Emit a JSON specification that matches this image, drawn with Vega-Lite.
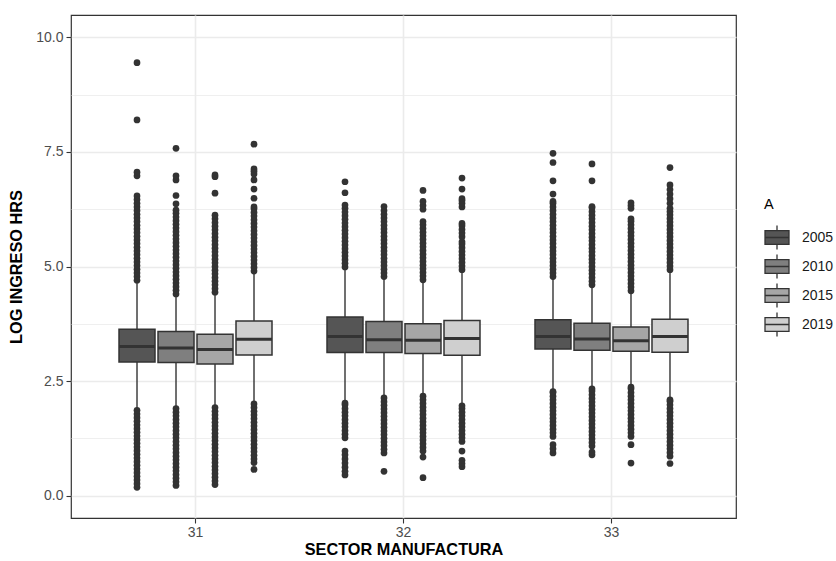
{
"$schema":"https://vega.github.io/schema/vega-lite/v6.json",
"width":665,"height":503,
"autosize":{"type":"none"},
"padding":{"left":71,"top":15,"right":100,"bottom":43},
"background":"white",
"config":{
"font":"Liberation Sans",
"view":{"stroke":"#333333","strokeWidth":1.2},
"axis":{"labelFont":"Liberation Sans","labelFontSize":14,"labelColor":"#4d4d4d","titleFont":"Liberation Sans","titleFontSize":16.3,"titleFontWeight":"bold","titleColor":"#000000","tickColor":"#333333","tickSize":5,"tickWidth":1.1,"domain":false,"gridColor":"#ebebeb","gridWidth":1.6},
"axisX":{"labelPadding":2,"titlePadding":2.5,"labelAngle":0,"grid":true,"bandPosition":0.5},
"axisY":{"labelPadding":3,"titlePadding":11}
},
"datasets":{
"box":[
{"s":"31","a":"2005","lo":1.90,"q1":2.915,"med":3.255,"q3":3.63,"hi":4.66},
{"s":"31","a":"2010","lo":1.94,"q1":2.905,"med":3.22,"q3":3.58,"hi":4.36},
{"s":"31","a":"2015","lo":1.96,"q1":2.87,"med":3.19,"q3":3.52,"hi":4.40},
{"s":"31","a":"2019","lo":2.04,"q1":3.07,"med":3.41,"q3":3.81,"hi":4.86},
{"s":"32","a":"2005","lo":2.06,"q1":3.12,"med":3.47,"q3":3.90,"hi":4.95},
{"s":"32","a":"2010","lo":2.17,"q1":3.12,"med":3.40,"q3":3.80,"hi":4.74},
{"s":"32","a":"2015","lo":2.21,"q1":3.10,"med":3.39,"q3":3.75,"hi":4.67},
{"s":"32","a":"2019","lo":2.00,"q1":3.06,"med":3.43,"q3":3.82,"hi":4.89},
{"s":"33","a":"2005","lo":2.31,"q1":3.20,"med":3.47,"q3":3.84,"hi":4.74},
{"s":"33","a":"2010","lo":2.37,"q1":3.17,"med":3.42,"q3":3.76,"hi":4.56},
{"s":"33","a":"2015","lo":2.41,"q1":3.15,"med":3.38,"q3":3.68,"hi":4.43},
{"s":"33","a":"2019","lo":2.13,"q1":3.13,"med":3.47,"q3":3.85,"hi":4.89}
],
"out":[
{"s":"31","a":"2005","v":4.70},{"s":"31","a":"2005","v":4.78},{"s":"31","a":"2005","v":4.86},{"s":"31","a":"2005","v":4.94},{"s":"31","a":"2005","v":5.02},{"s":"31","a":"2005","v":5.10},{"s":"31","a":"2005","v":5.18},{"s":"31","a":"2005","v":5.26},{"s":"31","a":"2005","v":5.34},{"s":"31","a":"2005","v":5.42},{"s":"31","a":"2005","v":5.50},{"s":"31","a":"2005","v":5.58},{"s":"31","a":"2005","v":5.66},{"s":"31","a":"2005","v":5.74},{"s":"31","a":"2005","v":5.82},{"s":"31","a":"2005","v":5.90},{"s":"31","a":"2005","v":5.98},{"s":"31","a":"2005","v":6.06},{"s":"31","a":"2005","v":6.14},{"s":"31","a":"2005","v":6.22},{"s":"31","a":"2005","v":6.30},{"s":"31","a":"2005","v":6.38},{"s":"31","a":"2005","v":6.46},{"s":"31","a":"2005","v":6.54},{"s":"31","a":"2005","v":6.98},{"s":"31","a":"2005","v":7.06},{"s":"31","a":"2005","v":8.20},{"s":"31","a":"2005","v":9.45},
{"s":"31","a":"2005","v":0.18},{"s":"31","a":"2005","v":0.26},{"s":"31","a":"2005","v":0.34},{"s":"31","a":"2005","v":0.42},{"s":"31","a":"2005","v":0.50},{"s":"31","a":"2005","v":0.58},{"s":"31","a":"2005","v":0.66},{"s":"31","a":"2005","v":0.74},{"s":"31","a":"2005","v":0.82},{"s":"31","a":"2005","v":0.90},{"s":"31","a":"2005","v":0.98},{"s":"31","a":"2005","v":1.06},{"s":"31","a":"2005","v":1.14},{"s":"31","a":"2005","v":1.22},{"s":"31","a":"2005","v":1.30},{"s":"31","a":"2005","v":1.38},{"s":"31","a":"2005","v":1.46},{"s":"31","a":"2005","v":1.54},{"s":"31","a":"2005","v":1.62},{"s":"31","a":"2005","v":1.70},{"s":"31","a":"2005","v":1.78},{"s":"31","a":"2005","v":1.86},
{"s":"31","a":"2010","v":4.40},{"s":"31","a":"2010","v":4.48},{"s":"31","a":"2010","v":4.56},{"s":"31","a":"2010","v":4.64},{"s":"31","a":"2010","v":4.72},{"s":"31","a":"2010","v":4.80},{"s":"31","a":"2010","v":4.88},{"s":"31","a":"2010","v":4.96},{"s":"31","a":"2010","v":5.04},{"s":"31","a":"2010","v":5.12},{"s":"31","a":"2010","v":5.20},{"s":"31","a":"2010","v":5.28},{"s":"31","a":"2010","v":5.36},{"s":"31","a":"2010","v":5.44},{"s":"31","a":"2010","v":5.52},{"s":"31","a":"2010","v":5.60},{"s":"31","a":"2010","v":5.68},{"s":"31","a":"2010","v":5.76},{"s":"31","a":"2010","v":5.84},{"s":"31","a":"2010","v":5.92},{"s":"31","a":"2010","v":6.00},{"s":"31","a":"2010","v":6.08},{"s":"31","a":"2010","v":6.16},{"s":"31","a":"2010","v":6.23},{"s":"31","a":"2010","v":6.37},{"s":"31","a":"2010","v":6.55},{"s":"31","a":"2010","v":6.89},{"s":"31","a":"2010","v":6.98},{"s":"31","a":"2010","v":7.58},
{"s":"31","a":"2010","v":0.22},{"s":"31","a":"2010","v":0.30},{"s":"31","a":"2010","v":0.38},{"s":"31","a":"2010","v":0.46},{"s":"31","a":"2010","v":0.54},{"s":"31","a":"2010","v":0.62},{"s":"31","a":"2010","v":0.70},{"s":"31","a":"2010","v":0.78},{"s":"31","a":"2010","v":0.86},{"s":"31","a":"2010","v":0.94},{"s":"31","a":"2010","v":1.02},{"s":"31","a":"2010","v":1.10},{"s":"31","a":"2010","v":1.18},{"s":"31","a":"2010","v":1.26},{"s":"31","a":"2010","v":1.34},{"s":"31","a":"2010","v":1.42},{"s":"31","a":"2010","v":1.50},{"s":"31","a":"2010","v":1.58},{"s":"31","a":"2010","v":1.66},{"s":"31","a":"2010","v":1.74},{"s":"31","a":"2010","v":1.82},{"s":"31","a":"2010","v":1.90},
{"s":"31","a":"2015","v":4.44},{"s":"31","a":"2015","v":4.52},{"s":"31","a":"2015","v":4.60},{"s":"31","a":"2015","v":4.68},{"s":"31","a":"2015","v":4.76},{"s":"31","a":"2015","v":4.84},{"s":"31","a":"2015","v":4.92},{"s":"31","a":"2015","v":5.00},{"s":"31","a":"2015","v":5.08},{"s":"31","a":"2015","v":5.16},{"s":"31","a":"2015","v":5.24},{"s":"31","a":"2015","v":5.32},{"s":"31","a":"2015","v":5.40},{"s":"31","a":"2015","v":5.48},{"s":"31","a":"2015","v":5.56},{"s":"31","a":"2015","v":5.64},{"s":"31","a":"2015","v":5.72},{"s":"31","a":"2015","v":5.80},{"s":"31","a":"2015","v":5.88},{"s":"31","a":"2015","v":5.96},{"s":"31","a":"2015","v":6.04},{"s":"31","a":"2015","v":6.12},{"s":"31","a":"2015","v":6.60},{"s":"31","a":"2015","v":6.96},{"s":"31","a":"2015","v":7.00},
{"s":"31","a":"2015","v":0.24},{"s":"31","a":"2015","v":0.32},{"s":"31","a":"2015","v":0.40},{"s":"31","a":"2015","v":0.48},{"s":"31","a":"2015","v":0.56},{"s":"31","a":"2015","v":0.64},{"s":"31","a":"2015","v":0.72},{"s":"31","a":"2015","v":0.80},{"s":"31","a":"2015","v":0.88},{"s":"31","a":"2015","v":0.96},{"s":"31","a":"2015","v":1.04},{"s":"31","a":"2015","v":1.12},{"s":"31","a":"2015","v":1.20},{"s":"31","a":"2015","v":1.28},{"s":"31","a":"2015","v":1.36},{"s":"31","a":"2015","v":1.44},{"s":"31","a":"2015","v":1.52},{"s":"31","a":"2015","v":1.60},{"s":"31","a":"2015","v":1.68},{"s":"31","a":"2015","v":1.76},{"s":"31","a":"2015","v":1.84},{"s":"31","a":"2015","v":1.92},
{"s":"31","a":"2019","v":4.90},{"s":"31","a":"2019","v":4.98},{"s":"31","a":"2019","v":5.06},{"s":"31","a":"2019","v":5.14},{"s":"31","a":"2019","v":5.22},{"s":"31","a":"2019","v":5.30},{"s":"31","a":"2019","v":5.38},{"s":"31","a":"2019","v":5.46},{"s":"31","a":"2019","v":5.54},{"s":"31","a":"2019","v":5.62},{"s":"31","a":"2019","v":5.70},{"s":"31","a":"2019","v":5.78},{"s":"31","a":"2019","v":5.86},{"s":"31","a":"2019","v":5.94},{"s":"31","a":"2019","v":6.02},{"s":"31","a":"2019","v":6.10},{"s":"31","a":"2019","v":6.18},{"s":"31","a":"2019","v":6.26},{"s":"31","a":"2019","v":6.30},{"s":"31","a":"2019","v":6.49},{"s":"31","a":"2019","v":6.69},{"s":"31","a":"2019","v":6.89},{"s":"31","a":"2019","v":7.02},{"s":"31","a":"2019","v":7.08},{"s":"31","a":"2019","v":7.13},{"s":"31","a":"2019","v":7.67},
{"s":"31","a":"2019","v":0.57},{"s":"31","a":"2019","v":0.72},{"s":"31","a":"2019","v":0.80},{"s":"31","a":"2019","v":0.88},{"s":"31","a":"2019","v":0.96},{"s":"31","a":"2019","v":1.04},{"s":"31","a":"2019","v":1.12},{"s":"31","a":"2019","v":1.20},{"s":"31","a":"2019","v":1.28},{"s":"31","a":"2019","v":1.36},{"s":"31","a":"2019","v":1.44},{"s":"31","a":"2019","v":1.52},{"s":"31","a":"2019","v":1.60},{"s":"31","a":"2019","v":1.68},{"s":"31","a":"2019","v":1.76},{"s":"31","a":"2019","v":1.84},{"s":"31","a":"2019","v":1.92},{"s":"31","a":"2019","v":2.00},
{"s":"32","a":"2005","v":4.99},{"s":"32","a":"2005","v":5.07},{"s":"32","a":"2005","v":5.15},{"s":"32","a":"2005","v":5.23},{"s":"32","a":"2005","v":5.31},{"s":"32","a":"2005","v":5.39},{"s":"32","a":"2005","v":5.47},{"s":"32","a":"2005","v":5.55},{"s":"32","a":"2005","v":5.63},{"s":"32","a":"2005","v":5.71},{"s":"32","a":"2005","v":5.79},{"s":"32","a":"2005","v":5.87},{"s":"32","a":"2005","v":5.95},{"s":"32","a":"2005","v":6.03},{"s":"32","a":"2005","v":6.11},{"s":"32","a":"2005","v":6.19},{"s":"32","a":"2005","v":6.27},{"s":"32","a":"2005","v":6.34},{"s":"32","a":"2005","v":6.61},{"s":"32","a":"2005","v":6.85},
{"s":"32","a":"2005","v":0.45},{"s":"32","a":"2005","v":0.53},{"s":"32","a":"2005","v":0.62},{"s":"32","a":"2005","v":0.71},{"s":"32","a":"2005","v":0.80},{"s":"32","a":"2005","v":0.89},{"s":"32","a":"2005","v":0.97},{"s":"32","a":"2005","v":1.26},{"s":"32","a":"2005","v":1.34},{"s":"32","a":"2005","v":1.42},{"s":"32","a":"2005","v":1.50},{"s":"32","a":"2005","v":1.58},{"s":"32","a":"2005","v":1.66},{"s":"32","a":"2005","v":1.74},{"s":"32","a":"2005","v":1.82},{"s":"32","a":"2005","v":1.90},{"s":"32","a":"2005","v":1.98},{"s":"32","a":"2005","v":2.02},
{"s":"32","a":"2010","v":4.78},{"s":"32","a":"2010","v":4.86},{"s":"32","a":"2010","v":4.94},{"s":"32","a":"2010","v":5.02},{"s":"32","a":"2010","v":5.10},{"s":"32","a":"2010","v":5.18},{"s":"32","a":"2010","v":5.26},{"s":"32","a":"2010","v":5.34},{"s":"32","a":"2010","v":5.42},{"s":"32","a":"2010","v":5.50},{"s":"32","a":"2010","v":5.58},{"s":"32","a":"2010","v":5.66},{"s":"32","a":"2010","v":5.74},{"s":"32","a":"2010","v":5.82},{"s":"32","a":"2010","v":5.90},{"s":"32","a":"2010","v":5.98},{"s":"32","a":"2010","v":6.06},{"s":"32","a":"2010","v":6.14},{"s":"32","a":"2010","v":6.22},{"s":"32","a":"2010","v":6.31},
{"s":"32","a":"2010","v":0.53},{"s":"32","a":"2010","v":0.93},{"s":"32","a":"2010","v":1.01},{"s":"32","a":"2010","v":1.09},{"s":"32","a":"2010","v":1.17},{"s":"32","a":"2010","v":1.25},{"s":"32","a":"2010","v":1.33},{"s":"32","a":"2010","v":1.41},{"s":"32","a":"2010","v":1.49},{"s":"32","a":"2010","v":1.57},{"s":"32","a":"2010","v":1.65},{"s":"32","a":"2010","v":1.73},{"s":"32","a":"2010","v":1.81},{"s":"32","a":"2010","v":1.89},{"s":"32","a":"2010","v":1.97},{"s":"32","a":"2010","v":2.05},{"s":"32","a":"2010","v":2.13},
{"s":"32","a":"2015","v":4.71},{"s":"32","a":"2015","v":4.79},{"s":"32","a":"2015","v":4.87},{"s":"32","a":"2015","v":4.95},{"s":"32","a":"2015","v":5.03},{"s":"32","a":"2015","v":5.11},{"s":"32","a":"2015","v":5.19},{"s":"32","a":"2015","v":5.27},{"s":"32","a":"2015","v":5.35},{"s":"32","a":"2015","v":5.43},{"s":"32","a":"2015","v":5.51},{"s":"32","a":"2015","v":5.59},{"s":"32","a":"2015","v":5.67},{"s":"32","a":"2015","v":5.75},{"s":"32","a":"2015","v":5.83},{"s":"32","a":"2015","v":5.91},{"s":"32","a":"2015","v":5.98},{"s":"32","a":"2015","v":6.25},{"s":"32","a":"2015","v":6.33},{"s":"32","a":"2015","v":6.42},{"s":"32","a":"2015","v":6.66},
{"s":"32","a":"2015","v":0.39},{"s":"32","a":"2015","v":0.84},{"s":"32","a":"2015","v":0.97},{"s":"32","a":"2015","v":1.05},{"s":"32","a":"2015","v":1.13},{"s":"32","a":"2015","v":1.21},{"s":"32","a":"2015","v":1.29},{"s":"32","a":"2015","v":1.37},{"s":"32","a":"2015","v":1.45},{"s":"32","a":"2015","v":1.53},{"s":"32","a":"2015","v":1.61},{"s":"32","a":"2015","v":1.69},{"s":"32","a":"2015","v":1.77},{"s":"32","a":"2015","v":1.85},{"s":"32","a":"2015","v":1.93},{"s":"32","a":"2015","v":2.01},{"s":"32","a":"2015","v":2.09},{"s":"32","a":"2015","v":2.17},
{"s":"32","a":"2019","v":4.93},{"s":"32","a":"2019","v":5.01},{"s":"32","a":"2019","v":5.09},{"s":"32","a":"2019","v":5.17},{"s":"32","a":"2019","v":5.25},{"s":"32","a":"2019","v":5.33},{"s":"32","a":"2019","v":5.41},{"s":"32","a":"2019","v":5.49},{"s":"32","a":"2019","v":5.54},{"s":"32","a":"2019","v":5.65},{"s":"32","a":"2019","v":5.73},{"s":"32","a":"2019","v":5.81},{"s":"32","a":"2019","v":5.89},{"s":"32","a":"2019","v":5.94},{"s":"32","a":"2019","v":6.30},{"s":"32","a":"2019","v":6.38},{"s":"32","a":"2019","v":6.44},{"s":"32","a":"2019","v":6.48},{"s":"32","a":"2019","v":6.69},{"s":"32","a":"2019","v":6.93},
{"s":"32","a":"2019","v":0.63},{"s":"32","a":"2019","v":0.70},{"s":"32","a":"2019","v":0.77},{"s":"32","a":"2019","v":0.97},{"s":"32","a":"2019","v":1.18},{"s":"32","a":"2019","v":1.26},{"s":"32","a":"2019","v":1.34},{"s":"32","a":"2019","v":1.42},{"s":"32","a":"2019","v":1.50},{"s":"32","a":"2019","v":1.58},{"s":"32","a":"2019","v":1.66},{"s":"32","a":"2019","v":1.74},{"s":"32","a":"2019","v":1.82},{"s":"32","a":"2019","v":1.90},{"s":"32","a":"2019","v":1.96},
{"s":"33","a":"2005","v":4.78},{"s":"33","a":"2005","v":4.86},{"s":"33","a":"2005","v":4.94},{"s":"33","a":"2005","v":5.02},{"s":"33","a":"2005","v":5.10},{"s":"33","a":"2005","v":5.18},{"s":"33","a":"2005","v":5.26},{"s":"33","a":"2005","v":5.34},{"s":"33","a":"2005","v":5.42},{"s":"33","a":"2005","v":5.50},{"s":"33","a":"2005","v":5.58},{"s":"33","a":"2005","v":5.66},{"s":"33","a":"2005","v":5.74},{"s":"33","a":"2005","v":5.82},{"s":"33","a":"2005","v":5.90},{"s":"33","a":"2005","v":5.98},{"s":"33","a":"2005","v":6.06},{"s":"33","a":"2005","v":6.14},{"s":"33","a":"2005","v":6.22},{"s":"33","a":"2005","v":6.30},{"s":"33","a":"2005","v":6.38},{"s":"33","a":"2005","v":6.42},{"s":"33","a":"2005","v":6.58},{"s":"33","a":"2005","v":6.87},{"s":"33","a":"2005","v":7.27},{"s":"33","a":"2005","v":7.47},
{"s":"33","a":"2005","v":0.93},{"s":"33","a":"2005","v":1.02},{"s":"33","a":"2005","v":1.11},{"s":"33","a":"2005","v":1.29},{"s":"33","a":"2005","v":1.37},{"s":"33","a":"2005","v":1.45},{"s":"33","a":"2005","v":1.53},{"s":"33","a":"2005","v":1.61},{"s":"33","a":"2005","v":1.69},{"s":"33","a":"2005","v":1.77},{"s":"33","a":"2005","v":1.85},{"s":"33","a":"2005","v":1.93},{"s":"33","a":"2005","v":2.01},{"s":"33","a":"2005","v":2.09},{"s":"33","a":"2005","v":2.17},{"s":"33","a":"2005","v":2.25},{"s":"33","a":"2005","v":2.27},
{"s":"33","a":"2010","v":4.60},{"s":"33","a":"2010","v":4.68},{"s":"33","a":"2010","v":4.76},{"s":"33","a":"2010","v":4.84},{"s":"33","a":"2010","v":4.92},{"s":"33","a":"2010","v":5.00},{"s":"33","a":"2010","v":5.08},{"s":"33","a":"2010","v":5.16},{"s":"33","a":"2010","v":5.24},{"s":"33","a":"2010","v":5.32},{"s":"33","a":"2010","v":5.40},{"s":"33","a":"2010","v":5.48},{"s":"33","a":"2010","v":5.56},{"s":"33","a":"2010","v":5.64},{"s":"33","a":"2010","v":5.72},{"s":"33","a":"2010","v":5.80},{"s":"33","a":"2010","v":5.88},{"s":"33","a":"2010","v":5.96},{"s":"33","a":"2010","v":6.04},{"s":"33","a":"2010","v":6.12},{"s":"33","a":"2010","v":6.20},{"s":"33","a":"2010","v":6.28},{"s":"33","a":"2010","v":6.31},{"s":"33","a":"2010","v":6.87},{"s":"33","a":"2010","v":7.24},
{"s":"33","a":"2010","v":0.89},{"s":"33","a":"2010","v":0.95},{"s":"33","a":"2010","v":1.08},{"s":"33","a":"2010","v":1.16},{"s":"33","a":"2010","v":1.24},{"s":"33","a":"2010","v":1.32},{"s":"33","a":"2010","v":1.40},{"s":"33","a":"2010","v":1.48},{"s":"33","a":"2010","v":1.56},{"s":"33","a":"2010","v":1.64},{"s":"33","a":"2010","v":1.72},{"s":"33","a":"2010","v":1.80},{"s":"33","a":"2010","v":1.88},{"s":"33","a":"2010","v":1.96},{"s":"33","a":"2010","v":2.04},{"s":"33","a":"2010","v":2.12},{"s":"33","a":"2010","v":2.20},{"s":"33","a":"2010","v":2.28},{"s":"33","a":"2010","v":2.33},
{"s":"33","a":"2015","v":4.47},{"s":"33","a":"2015","v":4.55},{"s":"33","a":"2015","v":4.63},{"s":"33","a":"2015","v":4.71},{"s":"33","a":"2015","v":4.79},{"s":"33","a":"2015","v":4.87},{"s":"33","a":"2015","v":4.95},{"s":"33","a":"2015","v":5.03},{"s":"33","a":"2015","v":5.11},{"s":"33","a":"2015","v":5.19},{"s":"33","a":"2015","v":5.27},{"s":"33","a":"2015","v":5.35},{"s":"33","a":"2015","v":5.43},{"s":"33","a":"2015","v":5.51},{"s":"33","a":"2015","v":5.59},{"s":"33","a":"2015","v":5.67},{"s":"33","a":"2015","v":5.75},{"s":"33","a":"2015","v":5.83},{"s":"33","a":"2015","v":5.91},{"s":"33","a":"2015","v":5.99},{"s":"33","a":"2015","v":6.04},{"s":"33","a":"2015","v":6.27},{"s":"33","a":"2015","v":6.33},{"s":"33","a":"2015","v":6.39},
{"s":"33","a":"2015","v":0.71},{"s":"33","a":"2015","v":1.11},{"s":"33","a":"2015","v":1.29},{"s":"33","a":"2015","v":1.37},{"s":"33","a":"2015","v":1.45},{"s":"33","a":"2015","v":1.53},{"s":"33","a":"2015","v":1.61},{"s":"33","a":"2015","v":1.69},{"s":"33","a":"2015","v":1.77},{"s":"33","a":"2015","v":1.85},{"s":"33","a":"2015","v":1.93},{"s":"33","a":"2015","v":2.01},{"s":"33","a":"2015","v":2.09},{"s":"33","a":"2015","v":2.17},{"s":"33","a":"2015","v":2.25},{"s":"33","a":"2015","v":2.33},{"s":"33","a":"2015","v":2.37},
{"s":"33","a":"2019","v":4.93},{"s":"33","a":"2019","v":5.01},{"s":"33","a":"2019","v":5.09},{"s":"33","a":"2019","v":5.17},{"s":"33","a":"2019","v":5.25},{"s":"33","a":"2019","v":5.33},{"s":"33","a":"2019","v":5.41},{"s":"33","a":"2019","v":5.49},{"s":"33","a":"2019","v":5.57},{"s":"33","a":"2019","v":5.65},{"s":"33","a":"2019","v":5.73},{"s":"33","a":"2019","v":5.81},{"s":"33","a":"2019","v":5.89},{"s":"33","a":"2019","v":5.97},{"s":"33","a":"2019","v":6.05},{"s":"33","a":"2019","v":6.13},{"s":"33","a":"2019","v":6.20},{"s":"33","a":"2019","v":6.27},{"s":"33","a":"2019","v":6.38},{"s":"33","a":"2019","v":6.48},{"s":"33","a":"2019","v":6.58},{"s":"33","a":"2019","v":6.68},{"s":"33","a":"2019","v":6.78},{"s":"33","a":"2019","v":7.16},
{"s":"33","a":"2019","v":0.70},{"s":"33","a":"2019","v":0.86},{"s":"33","a":"2019","v":0.94},{"s":"33","a":"2019","v":1.02},{"s":"33","a":"2019","v":1.10},{"s":"33","a":"2019","v":1.18},{"s":"33","a":"2019","v":1.26},{"s":"33","a":"2019","v":1.34},{"s":"33","a":"2019","v":1.42},{"s":"33","a":"2019","v":1.50},{"s":"33","a":"2019","v":1.58},{"s":"33","a":"2019","v":1.66},{"s":"33","a":"2019","v":1.74},{"s":"33","a":"2019","v":1.82},{"s":"33","a":"2019","v":1.90},{"s":"33","a":"2019","v":1.98},{"s":"33","a":"2019","v":2.06},{"s":"33","a":"2019","v":2.09}
]
},
"encoding":{
"x":{"field":"s","type":"nominal","title":"SECTOR MANUFACTURA","scale":{"paddingInner":0.25,"paddingOuter":0.2236}},
"xOffset":{"field":"a","type":"nominal","scale":{"paddingInner":0.077,"paddingOuter":0.0385}}
},
"layer":[
{"data":{"name":"out"},
 "mark":{"type":"circle","size":45,"color":"#333333","opacity":1},
 "encoding":{"y":{"field":"v","type":"quantitative","title":"LOG INGRESO HRS","scale":{"domain":[-0.49,10.49],"nice":false,"zero":false},
  "axis":{"values":[0,1.25,2.5,3.75,5,6.25,7.5,8.75,10],
   "labelExpr":"datum.value % 2.5 == 0 ? format(datum.value, '.1f') : ''",
   "gridWidth":{"condition":{"test":"datum.value % 2.5 != 0","value":0.8},"value":1.6},
   "tickOpacity":{"condition":{"test":"datum.value % 2.5 != 0","value":0},"value":1}}}}},
{"data":{"name":"box"},
 "mark":{"type":"rule","color":"#333333","strokeWidth":1.4},
 "encoding":{"y":{"field":"lo","type":"quantitative","title":"LOG INGRESO HRS","scale":{"domain":[-0.49,10.49],"nice":false,"zero":false}},"y2":{"field":"hi"}}},
{"data":{"name":"box"},
 "mark":{"type":"bar","stroke":"#333333","strokeWidth":1.5,"opacity":1},
 "encoding":{"y":{"field":"q1","type":"quantitative","title":"LOG INGRESO HRS","scale":{"domain":[-0.49,10.49],"nice":false,"zero":false}},"y2":{"field":"q3"},
  "fill":{"field":"a","type":"nominal","title":"A","scale":{"domain":["2005","2010","2015","2019"],"range":["#555555","#7f7f7f","#a6a6a6","#cfcfcf"]},
   "legend":{"orient":"none","legendX":693,"legendY":183,"padding":0,"titleFont":"Liberation Sans","titleFontSize":14.5,"titleFontWeight":"normal","titleColor":"#000000","titlePadding":12,"labelFont":"Liberation Sans","labelFontSize":14,"labelColor":"#1a1a1a","labelOffset":12,"symbolType":"M-1,-0.58H1V0.58H-1Z M-1,0H1 M0,-0.58V-1 M0,0.58V1","symbolSize":576,"symbolStrokeColor":"#333333","symbolStrokeWidth":1.3,"symbolOpacity":1,"rowPadding":-1}}}},
{"data":{"name":"box"},
 "mark":{"type":"tick","color":"#333333","thickness":3,"size":36,"opacity":1},
 "encoding":{"y":{"field":"med","type":"quantitative","title":"LOG INGRESO HRS","scale":{"domain":[-0.49,10.49],"nice":false,"zero":false}}}}
]
}
